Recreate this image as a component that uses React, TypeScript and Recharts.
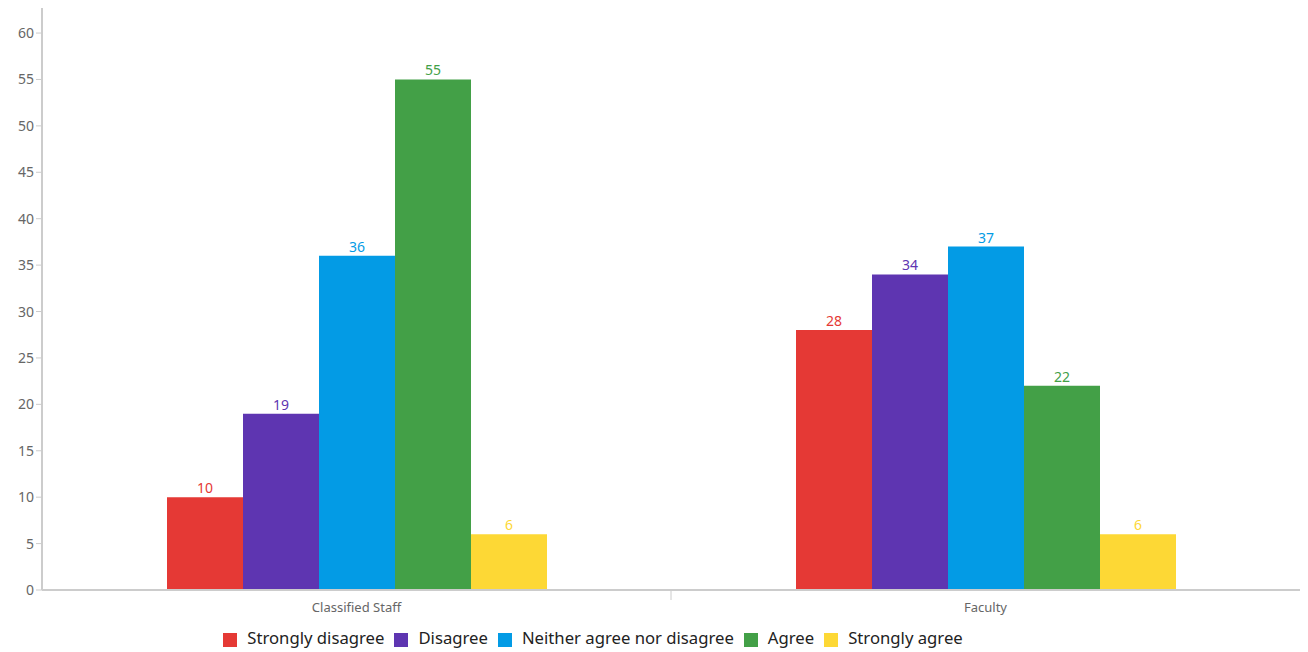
import { BarChart, Bar, XAxis, YAxis, Legend, LabelList } from 'recharts';

const categories = ['Classified Staff', 'Faculty'];
const seriesNames = ['Strongly disagree', 'Disagree', 'Neither agree nor disagree', 'Agree', 'Strongly agree'];
const stronglyDisagree = [10, 28];
const disagree = [19, 34];
const neither = [36, 37];
const agree = [55, 22];
const stronglyAgree = [6, 6];
const yTicks = [0, 5, 10, 15, 20, 25, 30, 35, 40, 45, 50, 55, 60];

const COLORS = ['#E53935', '#5E35B1', '#039BE5', '#43A047', '#FDD835'];
const FONT = '"Noto Sans", sans-serif';
const PLOT_WIDTH = 1258;

const seriesValues = [stronglyDisagree, disagree, neither, agree, stronglyAgree];
const data = categories.map((name, i) => {
  const row: Record<string, string | number> = { name };
  seriesNames.forEach((s, j) => {
    row[s] = seriesValues[j][i];
  });
  return row;
});

function CategoryTick(props: any) {
  const { x, y, payload, index } = props;
  const band = PLOT_WIDTH / categories.length;
  return (
    <g>
      <text x={x} y={y + 22} textAnchor="middle" fill="#666" fontSize={13} fontFamily={FONT}>
        {payload.value}
      </text>
      {index < categories.length - 1 && (
        <line x1={x + band / 2} x2={x + band / 2} y1={y} y2={y + 10} stroke="#ccc" />
      )}
    </g>
  );
}

export default function App() {
  return (
    <div style={{ position: 'absolute', left: 0, top: 0, background: '#fff' }}>
      <BarChart
        width={1308}
        height={652}
        data={data}
        margin={{ top: 8, right: 8, left: 0, bottom: 0 }}
        barCategoryGap={125}
        barGap={0}
      >
        <XAxis
          dataKey="name"
          axisLine={{ stroke: '#ccc', strokeWidth: 2 }}
          tickLine={false}
          tickSize={0}
          tickMargin={0}
          height={36}
          tick={<CategoryTick />}
          interval={0}
        />
        <YAxis
          width={42}
          domain={[0, 62.7]}
          ticks={yTicks}
          axisLine={{ stroke: '#ccc', strokeWidth: 2 }}
          tickLine={{ stroke: '#ccc' }}
          tickSize={6}
          tick={{ fill: '#666', fontSize: 14, fontFamily: FONT }}
          interval={0}
        />
        <Legend
          verticalAlign="bottom"
          align="center"
          iconType="square"
          iconSize={14}
          height={26}
          itemSorter={null}
          wrapperStyle={{ left: 0, width: 1196, fontFamily: FONT, fontSize: 16.7 }}
          formatter={(value) => <span style={{ color: '#222', marginLeft: 6 }}>{value}</span>}
        />
        {seriesNames.map((s, j) => (
          <Bar key={s} dataKey={s} fill={COLORS[j]} isAnimationActive={false}>
            <LabelList dataKey={s} position="top" fill={COLORS[j]} fontSize={14} fontFamily={FONT} offset={4} />
          </Bar>
        ))}
      </BarChart>
    </div>
  );
}
